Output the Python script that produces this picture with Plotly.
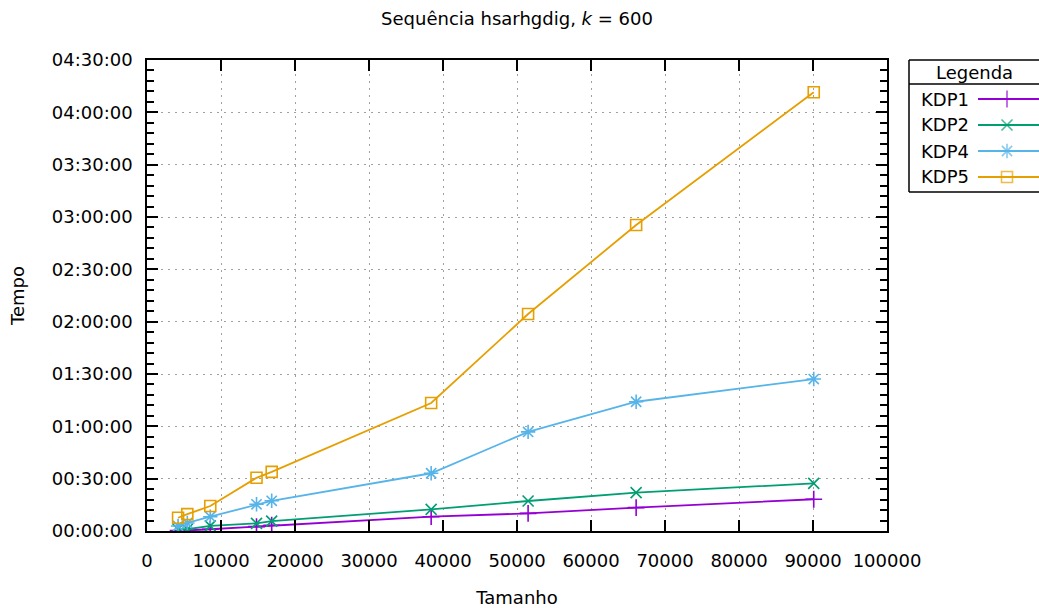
import plotly.graph_objects as go

# ---- data (y in minutes) ----
tamanho = [4200, 5450, 8550, 14800, 16850, 38400, 51500, 66100, 90100]
kdp1 = [0.2, 0.3, 1.0, 2.5, 3.3, 8.2, 10.1, 13.4, 18.2]
kdp2 = [1.0, 1.0, 2.9, 4.4, 5.7, 12.4, 17.2, 22.0, 27.3]
kdp4 = [2.9, 4.6, 8.2, 15.3, 17.3, 33.1, 56.8, 74.1, 87.1]
kdp5 = [7.6, 9.7, 14.3, 30.5, 33.9, 73.4, 124.4, 175.4, 251.5]

series_names = ["KDP1", "KDP2", "KDP4", "KDP5"]
series_values = [kdp1, kdp2, kdp4, kdp5]

y_tick_minutes = [0, 30, 60, 90, 120, 150, 180, 210, 240, 270]
y_tick_labels = ["00:00:00", "00:30:00", "01:00:00", "01:30:00", "02:00:00",
                 "02:30:00", "03:00:00", "03:30:00", "04:00:00", "04:30:00"]
x_tick_vals = [0, 10000, 20000, 30000, 40000, 50000, 60000, 70000, 80000, 90000, 100000]

colors = ["#9400D3", "#009E73", "#56B4E9", "#E69F00"]
symbols = ["cross-thin", "x-thin", "asterisk", "square-open"]
sizes = [12, 11, 12, 11]

FONT = "DejaVu Sans"
FS = 18
W, H = 1039, 608
# target plot rectangle in screenshot pixels
PL, PR, PT, PB = 147, 887, 60, 531
L, T, Bm = PL, PT, H - PB
paper_w = W - L
paper_h = H - T - Bm

def px_x(px):  # screen px -> paper x
    return (px - L) / paper_w

def px_y(py):  # screen py -> paper y
    return (PB - py) / paper_h

fig = go.Figure()

for name, vals, c, s, sz in zip(series_names, series_values, colors, symbols, sizes):
    fig.add_trace(go.Scatter(
        x=tamanho, y=vals, name=name, mode="lines+markers",
        line=dict(color=c, width=1.8),
        marker=dict(symbol=s, size=sz, color=c, line=dict(color=c, width=1.6)),
        xaxis="x", yaxis="y", showlegend=False,
    ))

# ---- manual gnuplot-style legend (text left, sample right) ----
leg_left, leg_top, leg_title_line, leg_bottom = 909, 60, 84, 192
row_y = [99, 125, 151, 177]
for i, (name, c, s, sz) in enumerate(zip(series_names, colors, symbols, sizes)):
    yy = row_y[i]
    fig.add_trace(go.Scatter(
        x=[978, 1007, 1045], y=[yy, yy, yy], mode="lines+markers",
        line=dict(color=c, width=1.8),
        marker=dict(symbol=s, size=[0, sz, 0], color=c, line=dict(color=c, width=1.6)),
        xaxis="x2", yaxis="y2", showlegend=False, hoverinfo="skip", cliponaxis=False,
    ))
    fig.add_annotation(x=px_x(919), y=px_y(yy), xref="paper", yref="paper",
                       text=name, showarrow=False, xanchor="left", yanchor="middle",
                       font=dict(family=FONT, size=FS, color="black"))

fig.add_annotation(x=px_x(974), y=px_y(72), xref="paper", yref="paper",
                   text="Legenda", showarrow=False, xanchor="center", yanchor="middle",
                   font=dict(family=FONT, size=FS, color="black"))
# legend frame: left, top, bottom and title separator (right side runs off the image)
for (x0, y0, x1, y1) in [(leg_left, leg_top, leg_left, leg_bottom),
                         (leg_left, leg_top, 1060, leg_top),
                         (leg_left, leg_bottom, 1060, leg_bottom),
                         (leg_left, leg_title_line, 1060, leg_title_line)]:
    fig.add_shape(type="line", xref="paper", yref="paper",
                  x0=px_x(x0), x1=px_x(x1), y0=px_y(y0), y1=px_y(y1),
                  line=dict(color="black", width=1.5))

fig.update_layout(
    width=W, height=H,
    margin=dict(l=L, r=0, t=T, b=Bm, pad=0, autoexpand=False),
    paper_bgcolor="white", plot_bgcolor="rgba(0,0,0,0)",
    font=dict(family=FONT, size=FS, color="black"),
    title=dict(text="Sequência hsarhgdig, <i>k</i> = 600",
               x=((PL + PR) / 2) / W, xanchor="center",
               y=1 - 19 / H, yanchor="middle", yref="container",
               font=dict(family=FONT, size=FS, color="black")),
    xaxis=dict(
        domain=[0, (PR - PL) / paper_w], range=[0, 100000],
        tickvals=x_tick_vals, tickformat="d",
        ticks="inside", ticklen=11, tickwidth=1.5, tickcolor="black",
        showline=True, linecolor="black", linewidth=1.5, mirror="allticks",
        showgrid=True, gridcolor="#a0a0a0", gridwidth=1, griddash="2px,5px",
        zeroline=False, automargin=False,
        title=dict(text="Tamanho", standoff=21, font=dict(family=FONT, size=FS)),
        tickfont=dict(family=FONT, size=FS),
        ticklabelstandoff=13,
    ),
    yaxis=dict(
        domain=[0, 1], range=[0, 270],
        tickvals=y_tick_minutes, ticktext=y_tick_labels,
        ticks="inside", ticklen=11, tickwidth=1.5, tickcolor="black",
        minor=dict(dtick=6, ticks="inside", ticklen=7, tickwidth=1.5, tickcolor="black", showgrid=False),
        showline=True, linecolor="black", linewidth=1.5, mirror="allticks",
        showgrid=True, gridcolor="#a0a0a0", gridwidth=1, griddash="2px,5px",
        zeroline=False, automargin=False,
        title=dict(text="Tempo", standoff=23, font=dict(family=FONT, size=FS)),
        tickfont=dict(family=FONT, size=FS),
        ticklabelstandoff=9,
    ),
    xaxis2=dict(domain=[0, 1], range=[PL, PL + paper_w], visible=False, anchor="y2",
                fixedrange=True, automargin=False),
    yaxis2=dict(domain=[0, 1], range=[PB, PT], visible=False, anchor="x2",
                fixedrange=True, automargin=False),
)

fig.write_html(
    "out.html",
    config={"displayModeBar": False},
    post_script="document.body.style.margin='0';document.body.style.overflow='hidden';"
                "document.documentElement.style.overflow='hidden';",
)
